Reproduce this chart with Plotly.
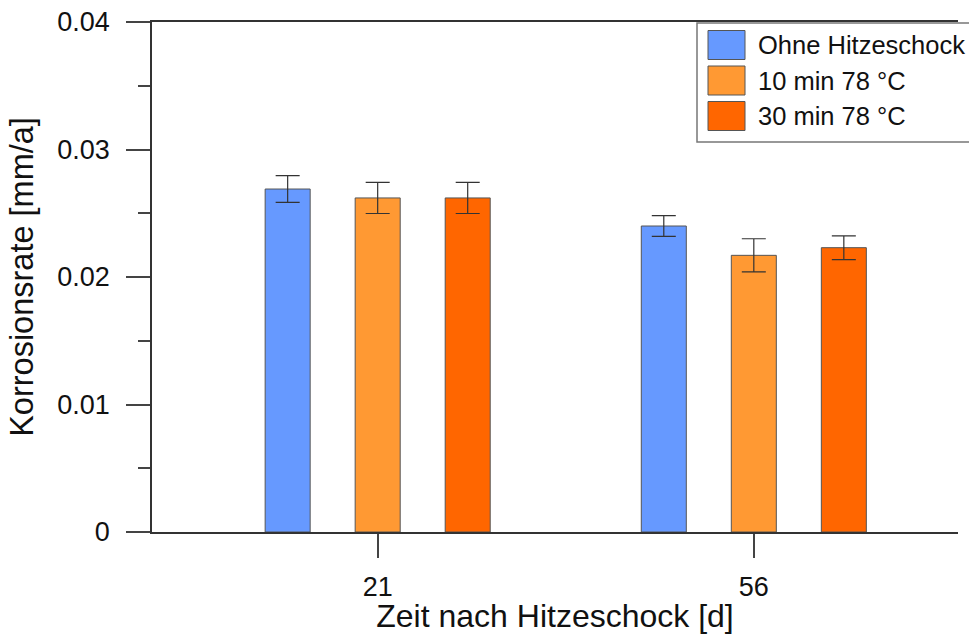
import plotly.graph_objects as go

# Data: corrosion rate after heat shock
days = [21, 56]
series_names = ["Ohne Hitzeschock", "10 min 78 °C", "30 min 78 °C"]
rate_ohne = [0.0269, 0.0240]
rate_10min = [0.0262, 0.0217]
rate_30min = [0.0262, 0.0223]
err_ohne = [0.00105, 0.00082]
err_10min = [0.00122, 0.00130]
err_30min = [0.00122, 0.00093]
y_tickvals = [0, 0.01, 0.02, 0.03, 0.04]
y_ticktext = ["0", "0.01", "0.02", "0.03", "0.04"]

colors = ["#6699FF", "#FF9933", "#FF6600"]
values = [rate_ohne, rate_10min, rate_30min]
errors = [err_ohne, err_10min, err_30min]

FONT = "Arial, Liberation Sans, sans-serif"
W, H = 969, 634
ML, MR, MT, MB = 152, 11, 22, 102
PW, PH = W - ML - MR, H - MT - MB

fig = go.Figure()
for name, vals, errs, col in zip(series_names, values, errors, colors):
    fig.add_trace(go.Bar(
        x=days, y=vals, name=name,
        marker=dict(color=col, line=dict(color="#555555", width=1)),
        error_y=dict(type="data", array=errs, visible=True,
                     color="#333333", thickness=1.2, width=12),
        showlegend=False,
    ))

# Boxed legend with large colour swatches, placed in the upper right corner
def px_x(px):
    return (px - ML) / PW

def px_y(py):
    return (MT + PH - py) / PH

shapes = [dict(type="rect", xref="paper", yref="paper",
               x0=px_x(697), x1=px_x(990), y0=px_y(142), y1=px_y(23),
               line=dict(color="#777777", width=1.5), fillcolor="white", layer="above")]
annotations = []
for i, (name, col) in enumerate(zip(series_names, colors)):
    cy = 45 + i * 35.5
    shapes.append(dict(type="rect", xref="paper", yref="paper",
                       x0=px_x(708), x1=px_x(745), y0=px_y(cy + 14.5), y1=px_y(cy - 14.5),
                       line=dict(color="#555555", width=1), fillcolor=col, layer="above"))
    annotations.append(dict(xref="paper", yref="paper", x=px_x(756), y=px_y(cy),
                            text=name, showarrow=False, xanchor="left", yanchor="middle",
                            font=dict(family=FONT, size=25.5, color="#111111")))

fig.update_layout(
    width=W, height=H,
    margin=dict(l=ML, r=MR, t=MT, b=MB, pad=0),
    plot_bgcolor="white", paper_bgcolor="white",
    barmode="group", bargap=0.282, bargroupgap=0.5,
    font=dict(family=FONT, color="#111111"),
    shapes=shapes, annotations=annotations,
    xaxis=dict(
        range=[0, 75], tickvals=days, ticktext=[str(d) for d in days],
        showgrid=False, zeroline=False, automargin=False,
        showline=True, linecolor="#333333", linewidth=1.5, mirror=True,
        ticks="outside", ticklen=24, tickcolor="#444444", tickwidth=1.5,
        tickfont=dict(family=FONT, size=27), ticklabelstandoff=6,
        title=dict(text="Zeit nach Hitzeschock [d]", font=dict(family=FONT, size=32), standoff=2),
    ),
    yaxis=dict(
        range=[0, 0.04], tickvals=y_tickvals, ticktext=y_ticktext,
        showgrid=False, zeroline=False, automargin=False,
        showline=True, linecolor="#333333", linewidth=1.5,
        ticks="outside", ticklen=24, tickcolor="#444444", tickwidth=1.5,
        minor=dict(ticks="outside", ticklen=12, dtick=0.005, tickcolor="#444444", tickwidth=1.5),
        tickfont=dict(family=FONT, size=27), ticklabelstandoff=11,
        title=dict(text="Korrosionsrate [mm/a]", font=dict(family=FONT, size=32.5), standoff=14),
    ),
)

fig.write_html("out.html")
